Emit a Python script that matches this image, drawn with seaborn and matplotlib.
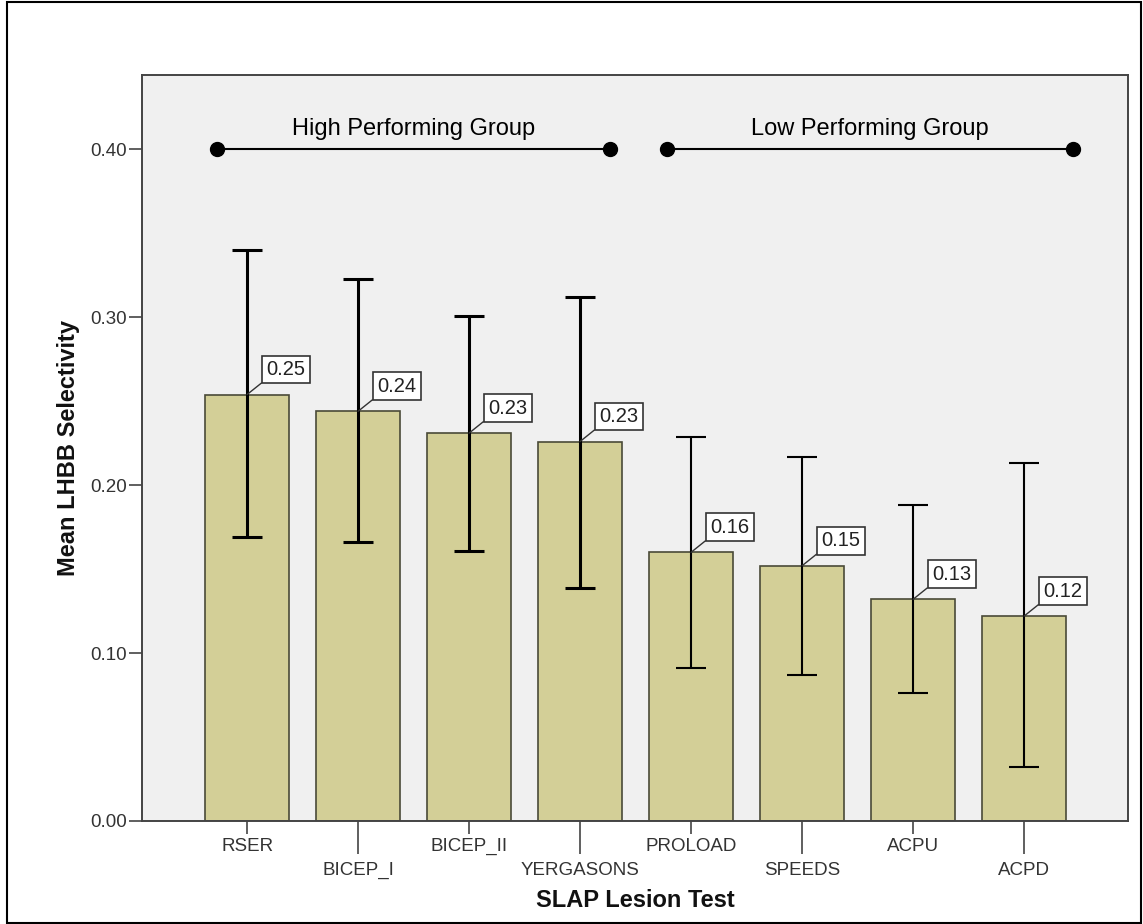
import matplotlib
matplotlib.use("Agg")
import matplotlib.pyplot as plt
from matplotlib.patches import Rectangle
import pandas as pd
import seaborn as sns

# values
tests = ["RSER", "BICEP_I", "BICEP_II", "YERGASONS", "PROLOAD", "SPEEDS", "ACPU", "ACPD"]
mean_sel = [0.254, 0.244, 0.231, 0.226, 0.160, 0.152, 0.132, 0.122]
ci_low = [0.169, 0.166, 0.161, 0.139, 0.091, 0.087, 0.076, 0.032]
ci_high = [0.340, 0.323, 0.301, 0.312, 0.229, 0.217, 0.188, 0.213]
group_names = ["High Performing Group", "Low Performing Group"]
group_members = [tests[:4], tests[4:]]

df = pd.DataFrame({"test": tests, "mean": mean_sel, "lo": ci_low, "hi": ci_high})

sns.set_style("white")
plt.rcParams["font.family"] = ["Liberation Sans", "DejaVu Sans"]

fig = plt.figure(figsize=(11.43, 9.24), dpi=100)
ax = fig.add_axes([0.124, 0.1115, 0.8629, 0.8073])
ax.set_facecolor("#f0f0f0")

sns.barplot(data=df, x="test", y="mean", color="#d3cf97", saturation=1, width=0.76,
            edgecolor="#4a4a38", linewidth=1.2, errorbar=None, ax=ax)

# confidence intervals: thicker for the high performing group
for i, row in df.iterrows():
    lw = 2.2 if row["test"] in group_members[0] else 1.5
    ax.errorbar(i, row["mean"], yerr=[[row["mean"] - row["lo"]], [row["hi"] - row["mean"]]],
                fmt="none", ecolor="black", elinewidth=lw, capsize=10.5, capthick=lw, zorder=4)

# boxed value labels
for i, v in enumerate(df["mean"]):
    ax.annotate(f"{v:.2f}", xy=(i, v), xytext=(28, 18), textcoords="offset points",
                ha="center", va="center", fontsize=14.5, color="#222222",
                bbox=dict(boxstyle="square,pad=0.22", fc="white", ec="#333333", lw=1.2),
                arrowprops=dict(arrowstyle="-", color="#333333", lw=1, relpos=(0, 0),
                                shrinkA=0, shrinkB=0), zorder=5)

# group brackets
for name, members in zip(group_names, group_members):
    x0 = tests.index(members[0]) - 0.27
    x1 = tests.index(members[-1]) + 0.27
    if name.startswith("Low"):
        x0 += 0.05
        x1 += 0.17
    ax.plot([x0, x1], [0.40, 0.40], color="black", lw=1.5, marker="o", markersize=10, zorder=4)
    ax.text((x0 + x1) / 2, 0.412, name, ha="center", va="center", fontsize=17, color="black")

ax.set_xlim(-0.949, 7.937)
ax.set_ylim(0, 0.4443)
ax.set_yticks([0.0, 0.1, 0.2, 0.3, 0.4])
ax.set_yticklabels([f"{t:.2f}" for t in [0.0, 0.1, 0.2, 0.3, 0.4]])

# staggered category labels
ax.set_xticks(range(0, 8, 2), labels=tests[0::2])
ax.set_xticks(range(1, 8, 2), labels=tests[1::2], minor=True)
ax.tick_params(axis="x", which="major", length=9.4, width=1.2, color="#444444", pad=2.5,
               labelsize=13.5, labelcolor="#333333", bottom=True)
ax.tick_params(axis="x", which="minor", length=23.8, width=1.2, color="#444444", pad=5.5,
               labelsize=13.5, labelcolor="#333333", bottom=True)
ax.tick_params(axis="y", length=9.4, width=1.2, color="#444444", pad=1.5,
               labelsize=13.5, labelcolor="#333333", left=True)

for s in ax.spines.values():
    s.set_color("#444444")
    s.set_linewidth(1.4)

ax.set_xlabel("SLAP Lesion Test", fontsize=17, fontweight="bold", labelpad=7, color="#111111")
ax.set_ylabel("Mean LHBB Selectivity", fontsize=17, fontweight="bold", labelpad=7, color="#111111")

# outer frame around the whole picture
fig.patches.append(Rectangle((7 / 1143, 1 / 924), 1134 / 1143, 921 / 924, transform=fig.transFigure,
                             fill=False, ec="black", lw=1.5))

fig.savefig("out.png", dpi=100)
